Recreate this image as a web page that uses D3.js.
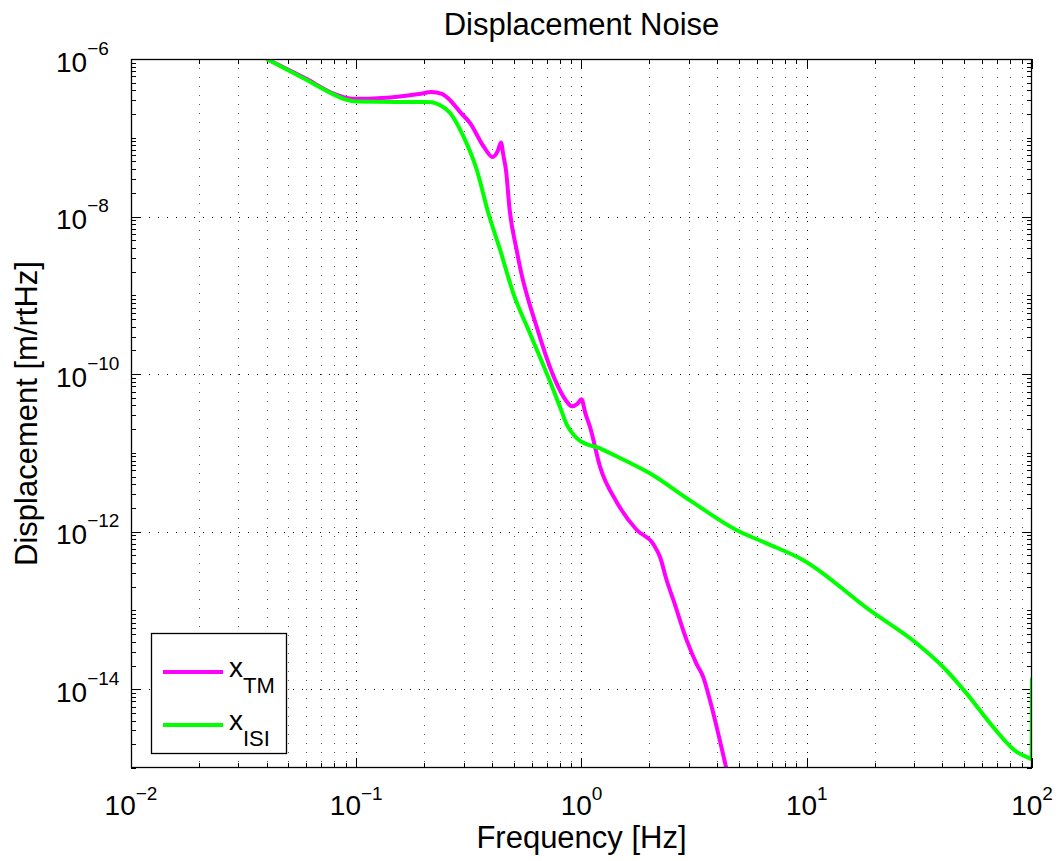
<!DOCTYPE html>
<html>
<head>
<meta charset="utf-8">
<script src="https://d3js.org/d3.v7.min.js"></script>
<style>
  html, body { margin: 0; padding: 0; background: #fff; }
  svg { display: block; font-family: "Liberation Sans", Arial, Helvetica, sans-serif; }
</style>
</head>
<body>
<script>
// ---- data ----
const freqTM = [0.04,0.06,0.08,0.0907,0.1,0.13,0.156,0.19,0.216,0.24,0.261,0.29,0.32,0.367,0.403,0.425,0.439,0.45,0.462,0.48,0.515,0.533,0.632,0.75,0.85,0.906,0.96,1.0,1.04,1.09,1.21,1.43,1.76,2.08,2.23,2.39,2.56,2.93,3.24,3.47,3.72,4.41,5.0];
const dispTM = [1e-6,5.6e-7,3.6e-7,3.2e-7,3.12e-7,3.2e-7,3.35e-7,3.6e-7,3.8e-7,3.6e-7,3.0e-7,2.1e-7,1.54e-7,7.8e-8,5.7e-8,6.8e-8,8.7e-8,6.0e-8,3.9e-8,1.2e-8,3.8e-9,2.3e-9,4.0e-10,9.5e-11,4.7e-11,3.9e-11,4.2e-11,4.8e-11,3.2e-11,2.15e-11,6.6e-12,2.4e-12,1.05e-12,7.0e-13,4.8e-13,2.4e-13,1.35e-13,4.2e-14,2.1e-14,1.43e-14,7.2e-15,9.5e-16,2e-16];
const freqISI = [0.04,0.06,0.08,0.09,0.1,0.15,0.2,0.216,0.235,0.261,0.299,0.343,0.386,0.435,0.498,0.59,0.75,0.802,0.859,0.93,0.985,1.21,1.34,2.01,3.03,4.89,6.64,9.66,19.1,30.8,40.4,51.3,67.3,85.5,96.4,99.6,99.9];
const dispISI = [1e-6,5.45e-7,3.5e-7,3.05e-7,2.88e-7,2.84e-7,2.84e-7,2.82e-7,2.6e-7,2.06e-7,1.04e-7,3.9e-8,1.1e-8,3.8e-9,1.06e-9,3.3e-10,6.3e-11,3.85e-11,2.3e-11,1.65e-11,1.42e-11,1.14e-11,9.9e-12,5.5e-12,2.5e-12,1.04e-12,7.1e-13,4.35e-13,1.0e-13,3.8e-14,1.9e-14,8.8e-15,3.3e-15,1.6e-15,1.35e-15,1.3e-15,1.4e-14];
const seriesNames = ["TM", "ISI"];
const seriesColors = ["#ff00ff", "#00ff00"];
const xTickExp = [-2, -1, 0, 1, 2];
const yTickExp = [-6, -8, -10, -12, -14];
const titleText = "Displacement Noise";
const xLabelText = "Frequency [Hz]";
const yLabelText = "Displacement [m/rtHz]";

// ---- layout ----
const W = 1064, H = 861;
const L = 131, R = 1032, T = 59, B = 768;

const svg = d3.select("body").append("svg").attr("width", W).attr("height", H);
svg.append("rect").attr("width", W).attr("height", H).attr("fill", "#fff");

const x = d3.scaleLog().domain([1e-2, 1e2]).range([L, R]);
const y = d3.scaleLog().domain([1e-15, 1e-6]).range([B, T]);

// grid values
const xMajor = xTickExp.map(e => Math.pow(10, e));
const xMinor = [];
for (let e = -2; e < 2; e++) for (let m = 2; m <= 9; m++) xMinor.push(m * Math.pow(10, e));
const yMajor = yTickExp.map(e => Math.pow(10, e));
const yMinor = [];
for (let e = -15; e < -6; e++) for (let m = 1; m <= 9; m++) {
  const v = m * Math.pow(10, e);
  if (!(m === 1 && e % 2 === 0)) yMinor.push(v);
}

const grid = svg.append("g");
grid.selectAll(".vmin").data(xMinor).enter().append("line")
  .attr("x1", d => Math.round(x(d)) + 0.5).attr("x2", d => Math.round(x(d)) + 0.5)
  .attr("y1", T).attr("y2", B)
  .attr("stroke", "#555").attr("stroke-width", 1).attr("stroke-dasharray", "1,8");
grid.selectAll(".vmaj").data(xMajor.slice(1, -1)).enter().append("line")
  .attr("x1", d => Math.round(x(d)) + 0.5).attr("x2", d => Math.round(x(d)) + 0.5)
  .attr("y1", T).attr("y2", B)
  .attr("stroke", "#000").attr("stroke-width", 1).attr("stroke-dasharray", "1,8");
grid.selectAll(".hmaj").data(yMajor.slice(1)).enter().append("line")
  .attr("y1", d => Math.round(y(d)) + 0.5).attr("y2", d => Math.round(y(d)) + 0.5)
  .attr("x1", L).attr("x2", R)
  .attr("stroke", "#000").attr("stroke-width", 1).attr("stroke-dasharray", "1,8");

// ticks (inside, all four sides)
const tk = svg.append("g").attr("stroke", "#000").attr("stroke-width", 1);
xMajor.forEach(v => {
  const px = Math.round(x(v)) + 0.5;
  tk.append("line").attr("x1", px).attr("x2", px).attr("y1", B).attr("y2", B - 10);
  tk.append("line").attr("x1", px).attr("x2", px).attr("y1", T).attr("y2", T + 10);
});
xMinor.forEach(v => {
  const px = Math.round(x(v)) + 0.5;
  tk.append("line").attr("x1", px).attr("x2", px).attr("y1", B).attr("y2", B - 5);
  tk.append("line").attr("x1", px).attr("x2", px).attr("y1", T).attr("y2", T + 5);
});
yMajor.forEach(v => {
  const py = Math.round(y(v)) + 0.5;
  tk.append("line").attr("y1", py).attr("y2", py).attr("x1", L).attr("x2", L + 10);
  tk.append("line").attr("y1", py).attr("y2", py).attr("x1", R).attr("x2", R - 10);
});
yMinor.forEach(v => {
  const py = Math.round(y(v)) + 0.5;
  tk.append("line").attr("y1", py).attr("y2", py).attr("x1", L).attr("x2", L + 5);
  tk.append("line").attr("y1", py).attr("y2", py).attr("x1", R).attr("x2", R - 5);
});

// curves
svg.append("clipPath").attr("id", "clip").append("rect")
  .attr("x", L).attr("y", T).attr("width", R - L).attr("height", B - T);
const line = d3.line().x(d => x(d[0])).y(d => y(d[1])).curve(d3.curveMonotoneX);
const seriesData = [
  d3.zip(freqTM, dispTM),
  d3.zip(freqISI, dispISI)
];
const curves = svg.append("g").attr("clip-path", "url(#clip)");
seriesData.forEach((s, i) => {
  curves.append("path").datum(s).attr("d", line)
    .attr("fill", "none").attr("stroke", seriesColors[i])
    .attr("stroke-width", 4).attr("stroke-linejoin", "round").attr("stroke-linecap", "butt");
});

// axes box
svg.append("rect").attr("x", L + 0.5).attr("y", T + 0.5).attr("width", R - L - 1).attr("height", B - T - 1)
  .attr("fill", "none").attr("stroke", "#000").attr("stroke-width", 1.3);

// tick labels
const fmtExp = e => (e < 0 ? "\u2212" + Math.abs(e) : String(e));
xTickExp.forEach(e => {
  const t = svg.append("text").attr("x", x(Math.pow(10, e))).attr("y", B + 47)
    .attr("text-anchor", "middle").attr("font-size", 28).attr("fill", "#000");
  t.append("tspan").text("10");
  t.append("tspan").attr("dy", -15).attr("font-size", 19).text(fmtExp(e));
});
yTickExp.forEach(e => {
  const t = svg.append("text").attr("x", 56).attr("y", y(Math.pow(10, e)) + 12.5)
    .attr("text-anchor", "start").attr("font-size", 28).attr("fill", "#000");
  t.append("tspan").text("10");
  t.append("tspan").attr("dy", -17).attr("font-size", 19).text(fmtExp(e));
});

// title & labels
svg.append("text").attr("x", (L + R) / 2).attr("y", 35).attr("text-anchor", "middle")
  .attr("font-size", 31).text(titleText);
svg.append("text").attr("x", (L + R) / 2).attr("y", 848).attr("text-anchor", "middle")
  .attr("font-size", 31).text(xLabelText);
svg.append("text").attr("transform", `translate(37,${(T + B) / 2}) rotate(-90)`)
  .attr("text-anchor", "middle").attr("font-size", 31).text(yLabelText);

// legend
const lg = svg.append("g");
lg.append("rect").attr("x", 151.5).attr("y", 633.5).attr("width", 135).attr("height", 120)
  .attr("fill", "#fff").attr("stroke", "#000").attr("stroke-width", 1.3);
const legY = [672, 725];
seriesNames.forEach((n, i) => {
  lg.append("line").attr("x1", 163).attr("x2", 223).attr("y1", legY[i]).attr("y2", legY[i])
    .attr("stroke", seriesColors[i]).attr("stroke-width", 4);
  const t = lg.append("text").attr("x", 229).attr("y", legY[i] + 5).attr("font-size", 28);
  t.append("tspan").text("x");
  t.append("tspan").attr("dy", 16).attr("font-size", 22).text(n);
});
</script>
</body>
</html>
